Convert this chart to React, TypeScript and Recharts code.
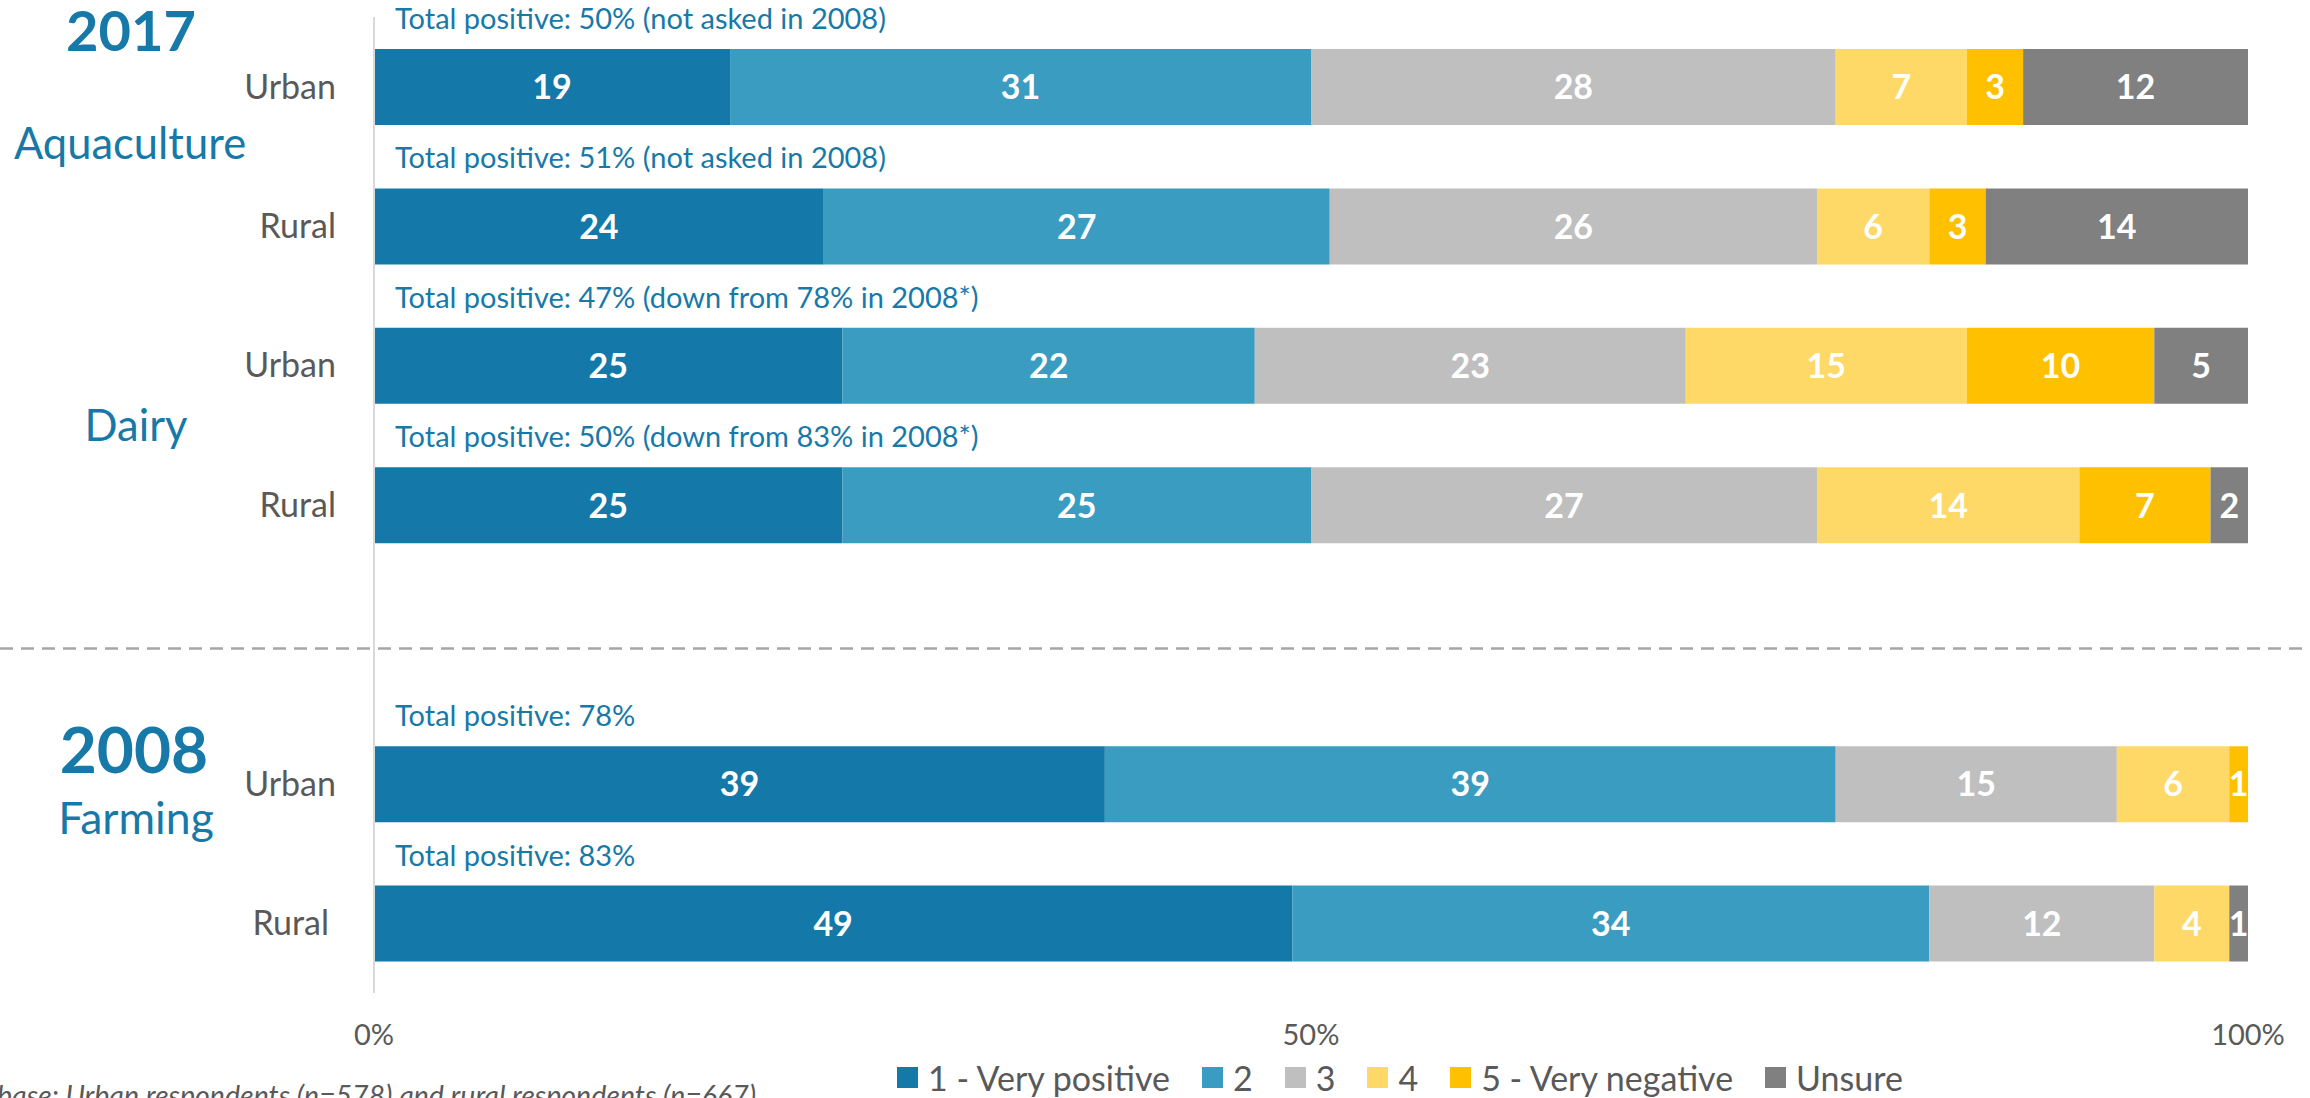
import { BarChart, Bar, XAxis, YAxis, Legend, LabelList, ReferenceLine } from 'recharts';

// rows, top to bottom ('gap' is the empty slot under the dashed divider)
const rowKeys = ['aq-urban', 'aq-rural', 'da-urban', 'da-rural', 'gap', 'fa-urban', 'fa-rural'];
const rowLabels = ['Urban', 'Rural', 'Urban', 'Rural', '', 'Urban', 'Rural'];
const notes = [
  'Total positive: 50% (not asked in 2008)',
  'Total positive: 51% (not asked in 2008)',
  'Total positive: 47% (down from 78% in 2008*)',
  'Total positive: 50% (down from 83% in 2008*)',
  '',
  'Total positive: 78%',
  'Total positive: 83%',
];

const veryPositive = [19, 24, 25, 25, null, 39, 49];
const two = [31, 27, 22, 25, null, 39, 34];
const three = [28, 26, 23, 27, null, 15, 12];
const four = [7, 6, 15, 14, null, 6, 4];
const veryNegative = [3, 3, 10, 7, null, 1, 0];
const unsure = [12, 14, 5, 2, null, 0, 1];

const seriesNames = ['1 - Very positive', '2', '3', '4', '5 - Very negative', 'Unsure'];
const seriesColors = ['#1479A8', '#3A9CC0', '#BFBFBF', '#FED968', '#FFC000', '#808080'];
const xTicks = [0, 50, 100];

const yearLabels = ['2017', '2008'];
const sectorLabels = ['Aquaculture', 'Dairy', 'Farming'];
const footnote = 'base: Urban respondents (n=578) and rural respondents (n=667)';

const BLUE = '#1779A8';
const GREY = '#595959';

const seriesValues = [veryPositive, two, three, four, veryNegative, unsure];

const data = rowKeys.map((key, i) => {
  const row: any = { key, note: notes[i] };
  seriesValues.forEach((vals, s) => {
    row['s' + s] = vals[i];
  });
  return row;
});

const YTick = ({ x, y, payload }: any) => {
  const i = rowKeys.indexOf(payload.value);
  return (
    <g>
      <text x={x - (i === 6 ? 45 : 38)} y={y} dy="0.35em" textAnchor="end" fill={GREY} fontSize={34}>
        {rowLabels[i]}
      </text>
      {i === 0 && (
        <>
          <text x={x - 243} y={y - 36} textAnchor="middle" fill={BLUE} fontSize={56} fontWeight={700}>
            {yearLabels[0]}
          </text>
          <text x={x - 244} y={y + 72} textAnchor="middle" fill={BLUE} fontSize={43.5}>
            {sectorLabels[0]}
          </text>
        </>
      )}
      {i === 2 && (
        <text x={x - 238} y={y + 75} textAnchor="middle" fill={BLUE} fontSize={43.5}>
          {sectorLabels[1]}
        </text>
      )}
      {i === 5 && (
        <>
          <text x={x - 240} y={y - 11} textAnchor="middle" fill={BLUE} fontSize={64} fontWeight={700}>
            {yearLabels[1]}
          </text>
          <text x={x - 238} y={y + 50} textAnchor="middle" fill={BLUE} fontSize={44.5}>
            {sectorLabels[2]}
          </text>
        </>
      )}
    </g>
  );
};

const ValueLabel = (props: any) => {
  const vb = props.viewBox || props;
  if (!props.value) return null;
  return (
    <text
      x={vb.x + vb.width / 2}
      y={vb.y + vb.height / 2}
      dy="0.36em"
      textAnchor="middle"
      fill="#ffffff"
      fontWeight={700}
      fontSize={34}
    >
      {props.value}
    </text>
  );
};

const NoteLabel = (props: any) => {
  const vb = props.viewBox || props;
  if (!props.value) return null;
  return (
    <text x={vb.x + 21} y={vb.y - 20} fill={BLUE} fontSize={29}>
      {props.value}
    </text>
  );
};

const renderLegend = () => (
  <div style={{ display: 'flex', alignItems: 'center', fontSize: 34, color: GREY, whiteSpace: 'nowrap' }}>
    {seriesNames.map((n, i) => (
      <div key={n} style={{ display: 'flex', alignItems: 'center', marginRight: 32 }}>
        <span style={{ display: 'inline-block', width: 21, height: 21, background: seriesColors[i], marginRight: 10 }} />
        <span>{n}</span>
      </div>
    ))}
  </div>
);

export default function App() {
  return (
    <div style={{ position: 'relative', width: 2310, height: 1098, overflow: 'hidden', fontFamily: 'Lato, sans-serif', background: '#fff' }}>
      <style>{`body{margin:0;}`}</style>
      <BarChart
        width={2310}
        height={1098}
        data={data}
        layout="vertical"
        margin={{ top: 17, right: 62, bottom: 45, left: 0 }}
      >
        <XAxis
          type="number"
          domain={[0, 100]}
          ticks={xTicks}
          tickFormatter={(v) => `${v}%`}
          axisLine={false}
          tickLine={false}
          tickSize={0}
          tickMargin={31}
          height={60}
          tick={{ fill: GREY, fontSize: 29 }}
        />
        <YAxis
          type="category"
          dataKey="key"
          width={374}
          tickLine={false}
          tickSize={0}
          tickMargin={0}
          axisLine={{ stroke: '#D9D9D9', strokeWidth: 2 }}
          tick={<YTick />}
          interval={0}
        />
        <ReferenceLine
          y="gap"
          shape={(p: any) => (
            <line x1={0} x2={2310} y1={p.y1 + 4} y2={p.y2 + 4} stroke="#A6A6A6" strokeWidth={2.5} strokeDasharray="13 8" />
          )}
        />
        {seriesNames.map((n, s) => (
          <Bar
            key={n}
            dataKey={'s' + s}
            name={n}
            stackId="a"
            fill={seriesColors[s]}
            barSize={76}
            isAnimationActive={false}
          >
            <LabelList dataKey={'s' + s} content={<ValueLabel />} />
            {s === 0 && <LabelList dataKey="note" content={<NoteLabel />} />}
          </Bar>
        ))}
        <Legend
          verticalAlign="middle"
          align="center"
          content={renderLegend}
          wrapperStyle={{ top: 1057, left: 897, width: 'auto' }}
        />
      </BarChart>
      <div
        style={{
          position: 'absolute',
          left: -3,
          top: 1078,
          fontSize: 28.5,
          lineHeight: 1.2,
          fontStyle: 'italic',
          color: GREY,
          whiteSpace: 'nowrap',
        }}
      >
        {footnote}
      </div>
    </div>
  );
}
